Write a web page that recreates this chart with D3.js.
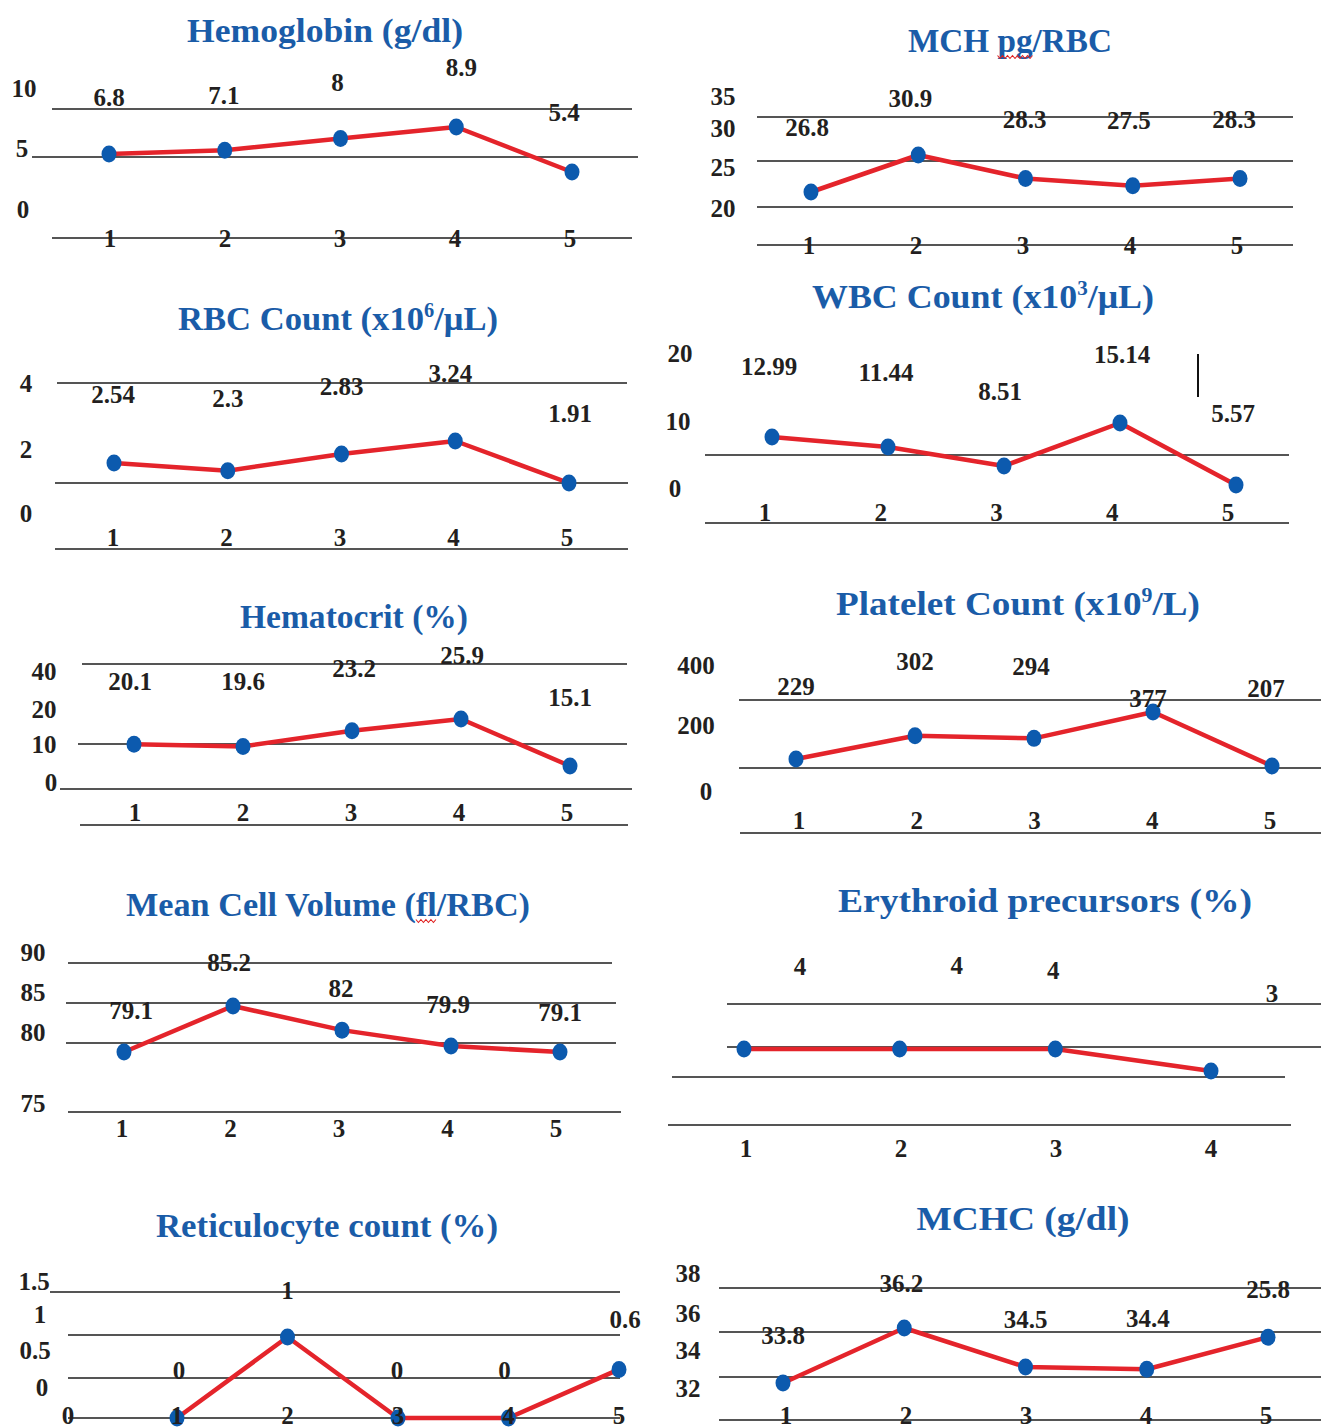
<!DOCTYPE html>
<html><head><meta charset="utf-8">
<script src="https://cdn.jsdelivr.net/npm/d3@7"></script>
<style>
body{margin:0;background:#fff}
svg{display:block}
text{font-family:"Liberation Serif","Times New Roman",serif;font-weight:bold}
</style>
</head><body>
<svg id="chart" width="1321" height="1427"></svg>
<script>
// ---------------- DATA ----------------
const categories5 = ["1","2","3","4","5"];
const categories4 = ["1","2","3","4"];

const hemoglobin   = [6.8, 7.1, 8, 8.9, 5.4];
const mch          = [26.8, 30.9, 28.3, 27.5, 28.3];
const rbc          = [2.54, 2.3, 2.83, 3.24, 1.91];
const wbc          = [12.99, 11.44, 8.51, 15.14, 5.57];
const hematocrit   = [20.1, 19.6, 23.2, 25.9, 15.1];
const platelets    = [229, 302, 294, 377, 207];
const mcv          = [79.1, 85.2, 82, 79.9, 79.1];
const erythroid    = [4, 4, 4, 3];
const reticulocyte = [0, 1, 0, 0, 0.6];
const mchc         = [33.8, 36.2, 34.5, 34.4, 35.8];
const mchcLabels   = ["33.8", "36.2", "34.5", "34.4", "25.8"]; // as printed

const hgbTicks   = ["10", "5", "0"];
const mchTicks   = ["35", "30", "25", "20"];
const rbcTicks   = ["4", "2", "0"];
const wbcTicks   = ["20", "10", "0"];
const hctTicks   = ["40", "20", "10", "0"];
const pltTicks   = ["400", "200", "0"];
const mcvTicks   = ["90", "85", "80", "75"];
const eryTicks   = [];
const reticTicks = ["1.5", "1", "0.5", "0", "0"];
const mchcTicks  = ["38", "36", "34", "32"];

// ---------------- LAYOUT ----------------
const panels = [
  { title:[["Hemoglobin (g/dl)"]], values:hemoglobin, cats:categories5, ticks:hgbTicks,
    titlePos:[325,42], titleW:276, xRange:[109,572], yRange:[172,127], xTickRange:[110,570], xTickY:238,
    labelDy:[-57,-55,-56,-60,-60], labelDx:[0,-1,-3,5,-8],
    tickPos:[[24,88],[22,148],[23,209]],
    grid:[[109,52,632],[157,32,638],[238,52,632]] },
  { title:[["MCH pg/RBC"]], squiggle:"pg", values:mch, cats:categories5, ticks:mchTicks,
    titlePos:[1010,52], titleW:204, xRange:[811,1240], yRange:[192,155], xTickRange:[809,1237], xTickY:245,
    labelDy:[-65,-57,-59,-65,-59], labelDx:[-4,-8,-1,-4,-6],
    tickPos:[[723,96],[723,128],[723,167],[723,208]],
    grid:[[117,757,1293],[161,757,1293],[207,757,1293],[245,757,1293]] },
  { title:[["RBC Count (x10"],["6",true],["/μL)"]], values:rbc, cats:categories5, ticks:rbcTicks,
    titlePos:[338,330], titleW:320, xRange:[114,569], yRange:[483,441], xTickRange:[113,567], xTickY:537,
    labelDy:[-69,-72,-67,-68,-70], labelDx:[-1,0,0,-5,1],
    tickPos:[[26,383],[26,449],[26,513]],
    grid:[[383,57,627],[483,55,628],[549,55,628]] },
  { title:[["WBC Count (x10"],["3",true],["/μL)"]], values:wbc, cats:categories5, ticks:wbcTicks,
    titlePos:[983,308], titleW:342, xRange:[772,1236], yRange:[485,423], xTickRange:[765,1228], xTickY:512,
    labelDy:[-70,-74,-74,-69,-72], labelDx:[-3,-2,-4,2,-3],
    tickPos:[[680,353],[678,421],[675,488]],
    grid:[[455,705,1289],[523,705,1289]],
    extraLines:[[1198,354,1198,397]] },
  { title:[["Hematocrit (%)"]], values:hematocrit, cats:categories5, ticks:hctTicks,
    titlePos:[354,628], titleW:228, xRange:[134,570], yRange:[766,719], xTickRange:[135,567], xTickY:812,
    labelDy:[-63,-65,-62,-64,-69], labelDx:[-4,0,2,1,0],
    tickPos:[[44,671],[44,709],[44,744],[51,782]],
    grid:[[664,82,627],[744,78,627],[789,60,632],[825,80,628]] },
  { title:[["Platelet Count (x10"],["9",true],["/L)"]], values:platelets, cats:categories5, ticks:pltTicks,
    titlePos:[1018,615], titleW:364, xRange:[796,1272], yRange:[766,712], xTickRange:[799,1270], xTickY:820,
    labelDy:[-73,-74,-72,-14,-78], labelDx:[0,0,-3,-5,-6],
    tickPos:[[696,665],[696,725],[706,791]],
    grid:[[700,739,1321],[768,739,1321],[833,740,1321]] },
  { title:[["Mean Cell Volume (fl/RBC)"]], squiggle:"fl", values:mcv, cats:categories5, ticks:mcvTicks,
    titlePos:[328,916], titleW:404, xRange:[124,560], yRange:[1052,1006], xTickRange:[122,556], xTickY:1128,
    labelDy:[-42,-44,-42,-41,-40], labelDx:[7,-4,-1,-3,0],
    tickPos:[[33,952],[33,992],[33,1032],[33,1103]],
    grid:[[963,68,612],[1003,66,616],[1043,66,616],[1112,68,621]] },
  { title:[["Erythroid precursors (%)"]], values:erythroid, cats:categories4, ticks:eryTicks,
    titlePos:[1045,912], titleW:414, xRange:[744,1211], yRange:[1071,1049], xTickRange:[746,1211], xTickY:1148,
    labelDy:[-83,-84,-79,-78], labelDx:[56,57,-2,61],
    tickPos:[],
    grid:[[1004,727,1321],[1047,727,1321],[1077,672,1285],[1125,668,1291]] },
  { title:[["Reticulocyte count (%)"]], values:reticulocyte, cats:categories5, ticks:reticTicks,
    titlePos:[327,1237], titleW:342, xRange:[177,619], yRange:[1418,1337], xTickRange:[177,619], xTickY:1415,
    labelDy:[-48,-47,-48,-48,-50], labelDx:[2,0,-1,-4,6],
    tickPos:[[34,1281],[40,1314],[35,1350],[42,1387],[68,1415]],
    grid:[[1292,50,620],[1335,68,620],[1378,68,620],[1418,68,620]] },
  { title:[["MCHC (g/dl)"]], values:mchc, labels:mchcLabels, cats:categories5, ticks:mchcTicks,
    titlePos:[1023,1230], titleW:213, xRange:[783,1268], yRange:[1383,1328], xTickRange:[786,1266], xTickY:1415,
    labelDy:[-48,-45,-47,-51,-48], labelDx:[0,-3,0,1,0],
    tickPos:[[688,1273],[688,1313],[688,1350],[688,1388]],
    grid:[[1288,719,1321],[1332,719,1321],[1377,719,1321],[1420,719,1321]] }
];

const style = {
  title:"#1a5ca8", line:"#e4242b", point:"#0c5aae", text:"#231f20", grid:"#1c1c1c"
};

const svg = d3.select("#chart");

panels.forEach(p => {
  const g = svg.append("g");
  const n = p.values.length;
  const x = d3.scaleLinear().domain([1, n]).range(p.xRange);
  const y = d3.scaleLinear().domain(d3.extent(p.values)).range(p.yRange);
  const xt = d3.scaleLinear().domain([1, n]).range(p.xTickRange);
  const labels = p.labels || p.values.map(String);

  // grid lines
  g.selectAll("line.grid").data(p.grid).join("line")
    .attr("class","grid")
    .attr("x1", d => d[1]).attr("x2", d => d[2])
    .attr("y1", d => d[0]).attr("y2", d => d[0])
    .attr("stroke", style.grid).attr("stroke-width", 1.6);

  (p.extraLines || []).forEach(l => {
    g.append("line").attr("x1", l[0]).attr("y1", l[1]).attr("x2", l[2]).attr("y2", l[3])
      .attr("stroke", "#111").attr("stroke-width", 2);
  });

  // series line
  g.append("path").datum(p.values)
    .attr("d", d3.line().x((d, i) => x(i + 1)).y(d => y(d)))
    .attr("fill", "none").attr("stroke", style.line)
    .attr("stroke-width", 4.5).attr("stroke-linejoin", "round");

  // points
  g.selectAll("ellipse.pt").data(p.values).join("ellipse")
    .attr("class","pt")
    .attr("cx", (d, i) => x(i + 1)).attr("cy", d => y(d))
    .attr("rx", 7.5).attr("ry", 8.5)
    .attr("fill", style.point);

  // data labels
  g.selectAll("text.lbl").data(p.values).join("text")
    .attr("class","lbl")
    .attr("x", (d, i) => x(i + 1) + (p.labelDx ? p.labelDx[i] : 0))
    .attr("y", (d, i) => y(d) + p.labelDy[i])
    .attr("text-anchor", "middle").attr("dominant-baseline", "central")
    .attr("font-size", 25).attr("fill", style.text)
    .text((d, i) => labels[i]);

  // category labels
  g.selectAll("text.cat").data(p.cats).join("text")
    .attr("class","cat")
    .attr("x", (d, i) => xt(i + 1)).attr("y", p.xTickY)
    .attr("text-anchor", "middle").attr("dominant-baseline", "central")
    .attr("font-size", 25).attr("fill", style.text)
    .text(d => d);

  // value-axis tick labels
  g.selectAll("text.tick").data(p.ticks).join("text")
    .attr("class","tick")
    .attr("x", (d, i) => p.tickPos[i][0]).attr("y", (d, i) => p.tickPos[i][1])
    .attr("text-anchor", "middle").attr("dominant-baseline", "central")
    .attr("font-size", 25).attr("fill", style.text)
    .text(d => d);

  // title
  const t = g.append("text")
    .attr("x", p.titlePos[0]).attr("y", p.titlePos[1])
    .attr("text-anchor", "middle")
    .attr("font-size", 34).attr("fill", style.title)
    .attr("textLength", p.titleW).attr("lengthAdjust", "spacingAndGlyphs");
  let shifted = false;
  p.title.forEach(part => {
    const ts = t.append("tspan").text(part[0]);
    if (part[1]) { ts.attr("font-size", 20).attr("dy", -13); shifted = true; }
    else if (shifted) { ts.attr("dy", 13); shifted = false; }
  });

  // spell-check squiggle
  if (p.squiggle) {
    const node = t.node();
    const full = p.title.map(s => s[0]).join("");
    const idx = full.indexOf(p.squiggle);
    const x0 = node.getStartPositionOfChar(idx).x;
    const x1 = node.getEndPositionOfChar(idx + p.squiggle.length - 1).x;
    const yb = p.titlePos[1] + 5;
    const pts = [];
    for (let xx = x0, k = 0; xx <= x1; xx += 2.5, k++) pts.push([xx, yb + (k % 2 ? 1.5 : -1.5)]);
    g.append("path").attr("d", d3.line()(pts))
      .attr("fill", "none").attr("stroke", "#e02020").attr("stroke-width", 1.1);
  }
});
</script>
</body></html>
